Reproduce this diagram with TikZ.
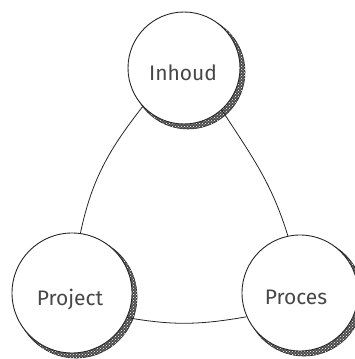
\documentclass[tikz,border=0pt]{standalone}
\usepackage{fontspec}
\setmainfont{Fira Sans}
\usetikzlibrary{patterns}
\begin{document}
\begin{tikzpicture}[x=1pt,y=1pt,
  topic/.style={circle, draw=black!85, line width=0.9pt, fill=white,
    inner sep=0pt},
  label/.style={font=\fontsize{21}{24}\selectfont, text=black!72},
  shade/.style={fill=black!70, draw=black!85, line width=0.6pt},
  grain/.style={pattern=crosshatch dots, pattern color=white},
  link/.style={draw=black!85, line width=0.8pt}]
\useasboundingbox (0,0) rectangle (355,359);

% textured shadows behind each circle
\foreach \cx/\cy/\r in {184/291/56, 72/66/60, 300/66/58} {
  \path[shade] (\cx+4,\cy-4) circle (\r+1);
  \fill[grain] (\cx+4,\cy-4) circle (\r+1);
}

% the three topics
\node[topic, minimum size=112pt] (I) at (184,291) {};
\node[topic, minimum size=120pt] (P) at (72,66) {};
\node[topic, minimum size=116pt] (R) at (300,66) {};

\node[label] (It) at (183,286) {Inhoud};
\node[label] (Pt) at (70,59) {Project};
\node[label] (Rt) at (296,62) {Proces};

% connectors
\draw[link] (I.223) to[out=232, in=78] (P.82);
\draw[link] (I.312) to[out=303, in=107] (R.102);
\draw[link] (P.336) to[out=-10, in=190] (R.204);
\end{tikzpicture}
\end{document}
